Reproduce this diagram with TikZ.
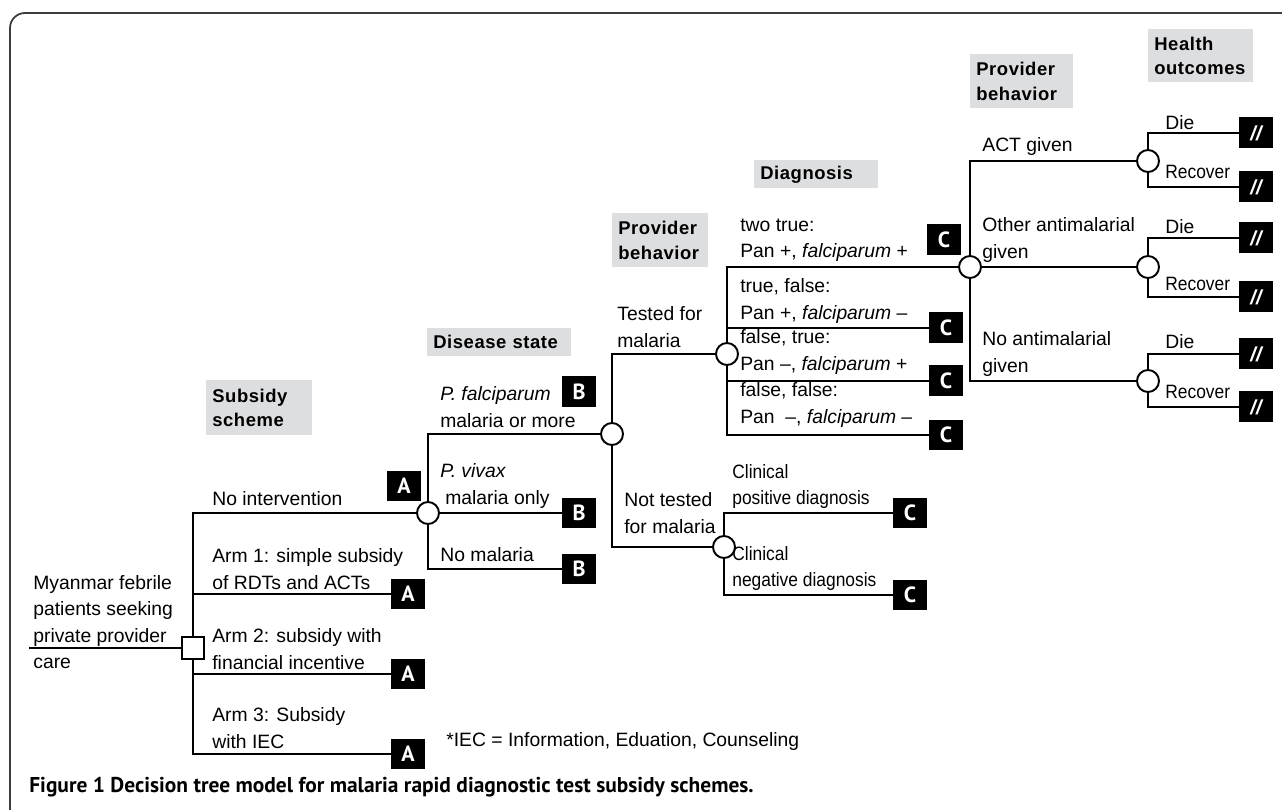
\documentclass[tikz,border=0pt]{standalone}
\usepackage{fontspec}
\setmainfont{Liberation Sans}
\newfontfamily\hdrfont[LetterSpace=3]{Liberation Sans}
\newfontfamily\tagfont{PT Sans}
\usetikzlibrary{positioning}
\definecolor{hdrgray}{RGB}{221,222,224}
\definecolor{framegray}{RGB}{60,60,60}
\def\lineW{1.5pt}
\def\tagW{0.68cm}
\def\tagH{0.62cm}
% narrower set labels
\newcommand{\narrowtxt}[1]{\scalebox{0.9}[1]{\begin{tabular}{@{}l@{}}#1\end{tabular}}}
\tikzset
{
  Branch/.style = {line width=\lineW},
  Chance/.style =
  {
    circle, draw, line width=1.1pt, fill=white,
    minimum size=0.44cm, inner sep=0pt,
  },
  Decision/.style =
  {
    rectangle, draw, line width=0.7pt, fill=white,
    minimum size=0.44cm, inner sep=0pt,
  },
  Tag/.style =
  {
    fill=black, text=white, minimum width=\tagW, minimum height=\tagH,
    inner sep=0pt, font=\tagfont\bfseries\fontsize{12.5}{12}\selectfont,
  },
  Outcome/.style = {Tag, font=\bfseries\itshape\fontsize{11.5}{11}\selectfont},
  Label/.style =
  {
    anchor=west, align=left, inner sep=0pt,
    font=\fontsize{11}{15}\selectfont,
  },
  Header/.style =
  {
    anchor=north west, fill=hdrgray, align=left, inner xsep=0.12cm,
    inner ysep=0pt, font=\hdrfont\bfseries\fontsize{10.5}{14}\selectfont,
  },
}

\begin{document}
\begin{tikzpicture}
[
  x=0.02cm, y=-0.02cm, % one unit = one pixel of the figure
]
\useasboundingbox (0,0) rectangle (1282,810);
\draw [framegray, line width=1pt, rounded corners=0.3cm] (10,850) -- (10,13) -- (1320,13);

% stage headers
\node (hSub)  [Header, text width=1.88cm, minimum height=1.1cm]  at (206,380) {Subsidy\\scheme};
\node (hDis)  [Header, text width=2.64cm, minimum height=0.56cm] at (427,328) {Disease state};
\node (hProA) [Header, text width=1.68cm, minimum height=1.08cm] at (612,213) {Provider\\behavior};
\node (hDia)  [Header, text width=2.24cm, minimum height=0.56cm] at (754,160) {Diagnosis};
\node (hProB) [Header, text width=1.82cm, minimum height=1.08cm] at (970,54)  {Provider\\behavior};
\node (hOut)  [Header, text width=1.86cm, minimum height=1.06cm] at (1148,29) {Health\\outcomes};

% decision and chance nodes
\coordinate (root) at (29,648);
\node (dec) [Decision] at (193,648) {};
\node (cNI) [Chance] at (428,513) {};
\node (cPF) [Chance] at (612,434) {};
\node (cT)  [Chance] at (727,354) {};
\node (cNT) [Chance] at (724,547) {};
\node (cTT) [Chance] at (970,267) {};
\node (cACT) [Chance] at (1148,161) {};
\node (cOA)  [Chance] at (1148,267) {};
\node (cNA)  [Chance] at (1148,381) {};

% end tags
\node (tA0) [Tag] at (404,486) {A};
\node (tA1) [Tag] at (408,594) {A};
\node (tA2) [Tag] at (408,674) {A};
\node (tA3) [Tag] at (408,754) {A};
\node (tBF) [Tag] at (579,392) {B};
\node (tBV) [Tag] at (579,513) {B};
\node (tBN) [Tag] at (579,569) {B};
\node (tC1) [Tag] at (944,240) {C};
\node (tC2) [Tag] at (946,328) {C};
\node (tC3) [Tag] at (946,381) {C};
\node (tC4) [Tag] at (946,435) {C};
\node (tCP) [Tag] at (910,513) {C};
\node (tCN) [Tag] at (910,595) {C};
\node (oD1) [Outcome] at (1256,133) {//};
\node (oR1) [Outcome] at (1256,187) {//};
\node (oD2) [Outcome] at (1256,238) {//};
\node (oR2) [Outcome] at (1256,297) {//};
\node (oD3) [Outcome] at (1256,354) {//};
\node (oR3) [Outcome] at (1256,407) {//};

% branches
\draw [Branch] (root) -- (dec.west);
\draw [Branch] (dec.north) |- (cNI.west);
\draw [Branch] (dec.north) |- (tA1.west);
\draw [Branch] (dec.south) |- (tA2.west);
\draw [Branch] (dec.south) |- (tA3.west);
\draw [Branch] (cNI.north) |- (cPF.west);
\draw [Branch] (cNI.east) -- (tBV.west);
\draw [Branch] (cNI.south) |- (tBN.west);
\draw [Branch] (cPF.north) |- (cT.west);
\draw [Branch] (cPF.south) |- (cNT.west);
\draw [Branch] (cT.north) |- (cTT.west);
\draw [Branch] (cT.north) |- (tC2.west);
\draw [Branch] (cT.south) |- (tC3.west);
\draw [Branch] (cT.south) |- (tC4.west);
\draw [Branch] (cNT.north) |- (tCP.west);
\draw [Branch] (cNT.south) |- (tCN.west);
\draw [Branch] (cTT.north) |- (cACT.west);
\draw [Branch] (cTT.east) -- (cOA.west);
\draw [Branch] (cTT.south) |- (cNA.west);
\draw [Branch] (cACT.north) |- (oD1.west);
\draw [Branch] (cACT.south) |- (oR1.west);
\draw [Branch] (cOA.north) |- (oD2.west);
\draw [Branch] (cOA.south) |- (oR2.west);
\draw [Branch] (cNA.north) |- (oD3.west);
\draw [Branch] (cNA.south) |- (oR3.west);

% branch labels
\node (lRoot) [Label] at (33,622) {Myanmar febrile\\patients seeking\\private provider\\care};
\node (lA0) [Label] at (212,499) {No intervention};
\node (lA1) [Label] at (212,569) {Arm 1: simple subsidy\\of RDTs and ACTs};
\node (lA2) [Label] at (212,649) {Arm 2: subsidy with\\financial incentive};
\node (lA3) [Label] at (212,728) {Arm 3: Subsidy\\with IEC};
\node (lPF) [Label] at (440,407) {\textit{P. falciparum}\\malaria or more};
\node (lPV) [Label] at (440,486) {\textit{P. vivax}\\\hspace{0.1cm}malaria only};
\node (lNM) [Label] at (440,555) {No malaria};
\node (lT)  [Label] at (617,327) {Tested for\\malaria};
\node (lNT) [Label] at (624,513) {Not tested\\for malaria};
\node (lCP) [Label] at (732,486) {\narrowtxt{Clinical\\positive diagnosis}};
\node (lCN) [Label] at (732,568) {\narrowtxt{Clinical\\negative diagnosis}};
\node (lTT) [Label] at (740,240) {two true:\\Pan +, \textit{falciparum} +};
\node (lTF) [Label] at (740,301) {true, false:\\Pan +, \textit{falciparum} \textendash};
\node (lFT) [Label] at (740,352) {false, true:\\Pan \textendash, \textit{falciparum} +};
\node (lFF) [Label] at (740,405) {false, false:\\Pan\ \ \textendash, \textit{falciparum} \textendash};
\node (lACT) [Label] at (982,147) {ACT given};
\node (lOA)  [Label] at (982,240) {Other antimalarial\\given};
\node (lNA)  [Label] at (982,354) {No antimalarial\\given};
\node (lD1) [Label] at (1165,123) {Die};
\node (lR1) [Label] at (1165,173) {\narrowtxt{Recover}};
\node (lD2) [Label] at (1165,227) {Die};
\node (lR2) [Label] at (1165,285) {\narrowtxt{Recover}};
\node (lD3) [Label] at (1165,342) {Die};
\node (lR3) [Label] at (1165,393) {\narrowtxt{Recover}};

\node (note) [Label] at (446,742) {*IEC = Information, Eduation, Counseling};
\node (caption) [Label, font=\tagfont\bfseries\fontsize{12.2}{13}\selectfont] at (29,787)
  {Figure 1 Decision tree model for malaria rapid diagnostic test subsidy schemes.};
\end{tikzpicture}
\end{document}
